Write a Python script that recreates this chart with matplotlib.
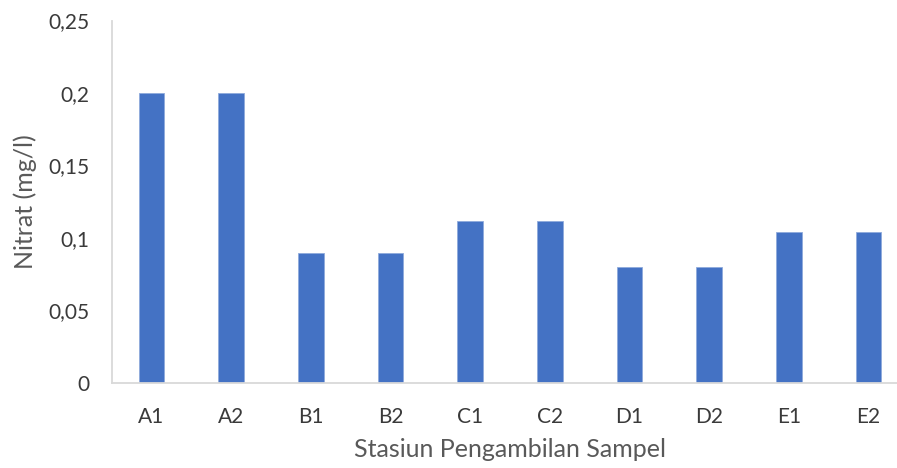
import matplotlib.pyplot as plt
import numpy as np
from matplotlib.ticker import FuncFormatter

# Nitrate concentration per sampling station
stations = ['A1', 'A2', 'B1', 'B2', 'C1', 'C2', 'D1', 'D2', 'E1', 'E2']
nitrat = [0.2, 0.2, 0.09, 0.09, 0.112, 0.112, 0.08, 0.08, 0.104, 0.104]
y_ticks = [0, 0.05, 0.1, 0.15, 0.2, 0.25]

plt.rcParams['font.family'] = ['Lato', 'DejaVu Sans']
text_color = '#595959'
tick_color = '#3a3a3a'
axis_color = '#D9D9D9'

fig = plt.figure(figsize=(8.97, 4.68), dpi=100)
# plot area runs slightly past the right edge of the canvas
ax = fig.add_axes([111.5 / 897, 85 / 468, 797 / 897, 362.5 / 468])

x = np.arange(len(stations))
ax.bar(x, nitrat, width=0.32, color='#4472C4', edgecolor='#8FAADC', linewidth=0.6)

ax.set_xlim(-0.5, len(stations) - 0.5)
ax.set_ylim(0, 0.25)
ax.set_yticks(y_ticks)
ax.yaxis.set_major_formatter(FuncFormatter(lambda v, p: ('%g' % v).replace('.', ',')))
ax.set_xticks(x)
ax.set_xticklabels(stations)

ax.tick_params(axis='both', length=0, labelsize=15, colors=tick_color)
ax.tick_params(axis='y', pad=16)
ax.tick_params(axis='x', pad=17)

for side in ['top', 'right']:
    ax.spines[side].set_visible(False)
for side in ['left', 'bottom']:
    ax.spines[side].set_color(axis_color)
    ax.spines[side].set_linewidth(1.3)

ax.set_xlabel('Stasiun Pengambilan Sampel', fontsize=18, color=text_color, labelpad=8)
fig.text(25 / 897, (85 + 362.5 / 2) / 468, 'Nitrat (mg/l)', fontsize=18,
         color=text_color, rotation=90, ha='center', va='center')

fig.savefig('out.png', dpi=100)
